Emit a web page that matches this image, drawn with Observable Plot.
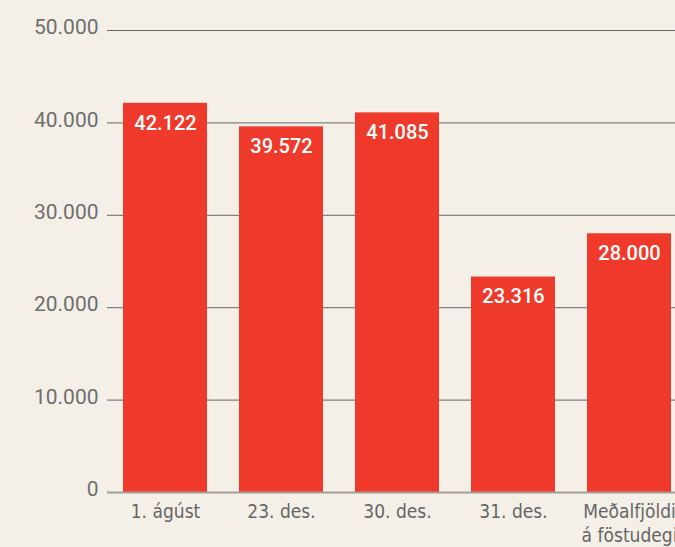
<!DOCTYPE html>
<html>
<head>
<meta charset="utf-8">
<script src="https://cdn.jsdelivr.net/npm/d3@7"></script>
<script src="https://cdn.jsdelivr.net/npm/@observablehq/plot@0.6"></script>
<style>
  html, body { margin: 0; padding: 0; background: #f4f0e8; overflow: hidden; }
  #chart svg { display: block; max-width: none; }
</style>
</head>
<body>
<div id="chart"></div>
<script>
const categories = ["1. ágúst", "23. des.", "30. des.", "31. des.", "Meðalfjöldi\ná föstudegi"];
const values = [42122, 39572, 41085, 23316, 28000];
const yTicks = [0, 10000, 20000, 30000, 40000, 50000];

const loc = d3.formatLocale({decimal: ",", thousands: ".", grouping: [3], currency: ["", ""]});
const fmt = loc.format(",");

const data = categories.map((c, i) => ({category: c, value: values[i]}));

const chart = Plot.plot({
  width: 675,
  height: 547,
  marginLeft: 107,
  marginRight: 0,
  marginTop: 30,
  marginBottom: 55,
  style: {background: "#f4f0e8", fontFamily: "Roboto, sans-serif"},
  x: {domain: categories, range: [106, 688], paddingInner: 0.274, paddingOuter: 0.14, label: null},
  y: {domain: [0, 50000], label: null},
  marks: [
    Plot.ruleY(yTicks.filter(d => d > 0), {stroke: "#666", strokeWidth: 1}),
    Plot.barY(data, {x: "category", y: "value", fill: "#ee392b"}),
    Plot.ruleY([0], {stroke: "#a39d96", strokeWidth: 2}),
    Plot.text(data, {x: "category", y: "value", text: d => fmt(d.value), fill: "white",
      fontSize: 20, fontWeight: 500, lineAnchor: "middle", dy: 20}),
    Plot.axisY({ticks: yTicks, tickSize: 0, tickPadding: 9, tickFormat: d => fmt(d),
      fontSize: 21, fontWeight: 400, fill: "#6e6e6e", dy: -3}),
    Plot.axisX({tickSize: 0, tickPadding: 9, fontSize: 19, lineHeight: 1.25,
      fill: "#666", fontFamily: "'DejaVu Sans Condensed', 'Liberation Sans Narrow', sans-serif"})
  ]
});
document.getElementById("chart").appendChild(chart);
</script>
</body>
</html>
